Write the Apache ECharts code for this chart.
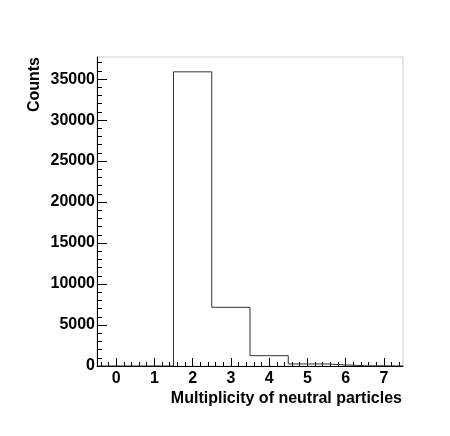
<!DOCTYPE html>
<html>
<head>
<meta charset="utf-8">
<script src="https://cdn.jsdelivr.net/npm/echarts@6/dist/echarts.min.js"></script>
<style>html,body{margin:0;padding:0;background:#fff;}#c{width:450px;height:436px;}</style>
</head>
<body>
<div id="c"></div>
<script>
// Histogram data
const binCenters = [0, 1, 2, 3, 4, 5, 6, 7];
const counts = [0, 0, 35890, 7160, 1260, 250, 25, 3];
const xTickLabels = [0, 1, 2, 3, 4, 5, 6, 7];
const yTickLabels = [0, 5000, 10000, 15000, 20000, 25000, 30000, 35000];
const yMinorTicks = [];
for (let v = 0; v <= 37000; v += 1000) yMinorTicks.push(v);
const xMinorTicks = [];
for (let k = -2; k <= 37; k++) xMinorTicks.push(+(k * 0.2).toFixed(2));

const binWidth = 1;
const stepData = binCenters.map((c, i) => [c - binWidth / 2, counts[i]]);
stepData.push([binCenters[binCenters.length - 1] + binWidth / 2, counts[counts.length - 1]]);

const font = 'Liberation Sans, Arial, Helvetica, sans-serif';
const chart = echarts.init(document.getElementById('c'), null, {renderer: 'canvas'});
chart.setOption({
  animation: false,
  backgroundColor: '#fff',
  grid: {left: 97, right: 47, top: 57, bottom: 70, show: true, borderColor: '#cccccc', borderWidth: 1, backgroundColor: 'transparent'},
  xAxis: [{
    type: 'value', min: -0.5, max: 7.5, position: 'bottom',
    axisLine: {show: true, onZero: false, lineStyle: {color: '#000', width: 1}},
    axisTick: {show: true, inside: true, length: 8, customValues: xTickLabels, lineStyle: {color: '#000'}},
    axisLabel: {show: true, customValues: xTickLabels, formatter: v => String(v), color: '#000', fontFamily: font, fontWeight: 'bold', fontSize: 16, margin: 5},
    splitLine: {show: false}
  }, {
    type: 'value', min: -0.5, max: 7.5, position: 'bottom',
    axisLine: {show: false, onZero: false},
    axisTick: {show: true, inside: true, length: 4, customValues: xMinorTicks, lineStyle: {color: '#000'}},
    axisLabel: {show: false},
    splitLine: {show: false}
  }],
  yAxis: [{
    type: 'value', min: 0, max: 37700, position: 'left',
    axisLine: {show: true, onZero: false, lineStyle: {color: '#000', width: 1}},
    axisTick: {show: true, inside: true, length: 10, customValues: yTickLabels, lineStyle: {color: '#000'}},
    axisLabel: {show: true, customValues: yTickLabels, formatter: v => String(v), color: '#000', fontFamily: font, fontWeight: 'bold', fontSize: 16, margin: 2},
    splitLine: {show: false}
  }, {
    type: 'value', min: 0, max: 37700, position: 'left',
    axisLine: {show: false, onZero: false},
    axisTick: {show: true, inside: true, length: 5, customValues: yMinorTicks, lineStyle: {color: '#000'}},
    axisLabel: {show: false},
    splitLine: {show: false}
  }],
  series: [{
    type: 'line', step: 'end', data: stepData, showSymbol: false, symbol: 'none',
    lineStyle: {color: '#333', width: 1}, xAxisIndex: 0, yAxisIndex: 0, z: 3
  }],
  graphic: [{
    type: 'text', x: 402, y: 399,
    style: {text: 'Multiplicity of neutral particles', font: 'bold 16px ' + font, fill: '#000', align: 'right', verticalAlign: 'middle'}
  }, {
    type: 'text', x: 35, y: 57, rotation: Math.PI / 2,
    style: {text: 'Counts', font: 'bold 16px ' + font, fill: '#000', align: 'right', verticalAlign: 'middle'}
  }]
});
</script>
</body>
</html>
